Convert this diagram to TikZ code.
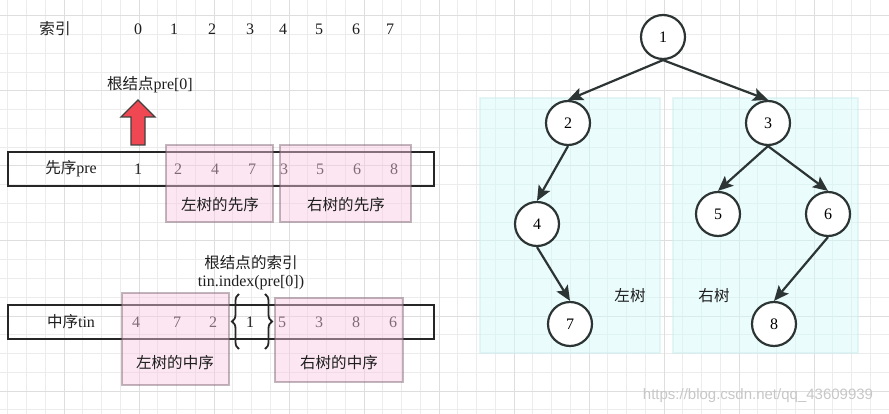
\documentclass[tikz,border=0pt]{standalone}
\usepackage{fontspec}
\setmainfont{Liberation Serif}
\newfontfamily\cjk[Scale=0.97]{Noto Sans CJK SC}
\newfontfamily\wmfont{Liberation Sans}
\usetikzlibrary{arrows.meta,decorations.pathreplacing}
\definecolor{gridminor}{RGB}{236,236,236}
\definecolor{gridmajor}{RGB}{222,222,222}
\definecolor{txt}{RGB}{30,30,30}
\definecolor{pinkfill}{RGB}{248,200,225}
\definecolor{pinkline}{RGB}{120,95,108}
\definecolor{cyanfill}{RGB}{214,250,250}
\definecolor{cyanline}{RGB}{205,235,235}
\definecolor{redarrow}{RGB}{240,72,82}
\definecolor{dark}{RGB}{45,52,52}
\tikzset{
  lbl/.style={font=\fontsize{16}{19}\selectfont, text=txt, inner sep=0pt},
  arrbox/.style={draw=black!85, line width=2pt, inner sep=0pt, minimum height=34},
  pinkbox/.style={fill=pinkfill, fill opacity=0.45, draw=pinkline, draw opacity=0.45, line width=2pt, inner sep=0pt},
  cyanbox/.style={fill=cyanfill, fill opacity=0.5, draw=cyanline, draw opacity=0.5, line width=1.5pt, inner sep=0pt},
  tnode/.style={circle, draw=dark, line width=2.2pt, fill=white, minimum size=44, inner sep=0pt, font=\fontsize{16}{19}\selectfont},
  tedge/.style={draw=dark, line width=2.2pt, -{Stealth[length=15pt,width=13pt,inset=3pt]}},
  bracestyle/.style={draw=black!85, line width=1.8pt, decorate, decoration={brace, amplitude=7pt}}
}
\begin{document}
\begin{tikzpicture}[x=1pt,y=-1pt]
\useasboundingbox (0,0) rectangle (889,414);
% grid
\foreach \i in {0,...,47} \draw[gridminor, line width=1pt] ({7.75+18.75*\i},0) -- ({7.75+18.75*\i},414);
\foreach \i in {0,...,22} \draw[gridminor, line width=1pt] (0,{-2.75+18.75*\i}) -- (889,{-2.75+18.75*\i});
\foreach \i in {0,...,11} \draw[gridmajor, line width=1pt] ({64+75*\i},0) -- ({64+75*\i},414);
\foreach \i in {0,...,5} \draw[gridmajor, line width=1pt] (0,{16+75*\i}) -- (889,{16+75*\i});

% cyan panels
\node[cyanbox, minimum width=180, minimum height=255] (lpanel) at (570,225.5) {};
\node[cyanbox, minimum width=185, minimum height=255] (rpanel) at (765.5,225.5) {};

% index row
\node[lbl] (idxlbl) at (55,29) {\cjk 索引};
\foreach \x/\v [count=\k from 0] in {138/0,174/1,212/2,250/3,283/4,319/5,356/6,390/7}
  \node[lbl] (idx\k) at (\x,29) {\v};

% root label + red arrow
\node[lbl] (rootlbl) at (150,85) {{\cjk 根结点}pre[0]};
\draw[fill=redarrow, draw=black!75, line width=1.4pt, line join=miter]
  (138,100) -- (155,117) -- (145,117) -- (145,145) -- (131,145) -- (131,117) -- (121,117) -- cycle;

% pre array
\node[arrbox, minimum width=426] (prebox) at (221,169) {};
\node[lbl] (prename) at (71,169) {{\cjk 先序}pre};
\foreach \x/\v [count=\k] in {138/1,178/2,215/4,252/7,284/3,320/5,357/6,394/8}
  \node[lbl] (pre\k) at (\x,169) {\v};
\node[pinkbox, minimum width=107, minimum height=77] (preL) at (219.5,183.5) {};
\node[pinkbox, minimum width=131, minimum height=77] (preR) at (345.5,183.5) {};
\node[lbl] at (220,205) {\cjk 左树的先序};
\node[lbl] at (346,205) {\cjk 右树的先序};

% tin array
\node[lbl] (tinlbl1) at (251,263) {\cjk 根结点的索引};
\node[lbl] (tinlbl2) at (251,283) {tin.index(pre[0])};
\node[arrbox, minimum width=426] (tinbox) at (221,322) {};
\node[lbl] (tinname) at (71,322) {{\cjk 中序}tin};
\foreach \x/\v [count=\k] in {136/4,177/7,213/2,250/1,282/5,319/3,356/8,393/6}
  \node[lbl] (tin\k) at (\x,322) {\v};
\coordinate (bLb) at (239,349);
\coordinate (bLt) at (239,294);
\coordinate (bRb) at (265,349);
\coordinate (bRt) at (265,294);
\draw[bracestyle] (bLb) -- (bLt);
\draw[bracestyle] (bRt) -- (bRb);
\node[pinkbox, minimum width=107, minimum height=92] (tinL) at (175.5,339) {};
\node[pinkbox, minimum width=128, minimum height=84] (tinR) at (339,340) {};
\node[lbl] at (175,363) {\cjk 左树的中序};
\node[lbl] at (339,363) {\cjk 右树的中序};

% tree
\node[tnode] (n1) at (663,37) {1};
\node[tnode] (n2) at (568,123) {2};
\node[tnode] (n3) at (768,123) {3};
\node[tnode] (n4) at (537,224) {4};
\node[tnode] (n5) at (718,214) {5};
\node[tnode] (n6) at (828,214) {6};
\node[tnode] (n7) at (570,324) {7};
\node[tnode] (n8) at (774,324) {8};
\draw[tedge] (n1.south) -- (n2.north);
\draw[tedge] (n1.south) -- (n3.north);
\draw[tedge] (n2.south) -- (n4.north);
\draw[tedge] (n3.south) -- (n5.north);
\draw[tedge] (n3.south) -- (n6.north);
\draw[tedge] (n4.south) -- (n7.north);
\draw[tedge] (n6.south) -- (n8.north);
\node[lbl] (ltree) at (630,296) {\cjk 左树};
\node[lbl] (rtree) at (714,296) {\cjk 右树};

% watermark
\node[inner sep=0pt, text=black!22, font=\wmfont\fontsize{15}{18}\selectfont] (wm) at (758,396) {https://blog.csdn.net/qq\_43609939};
\end{tikzpicture}
\end{document}
